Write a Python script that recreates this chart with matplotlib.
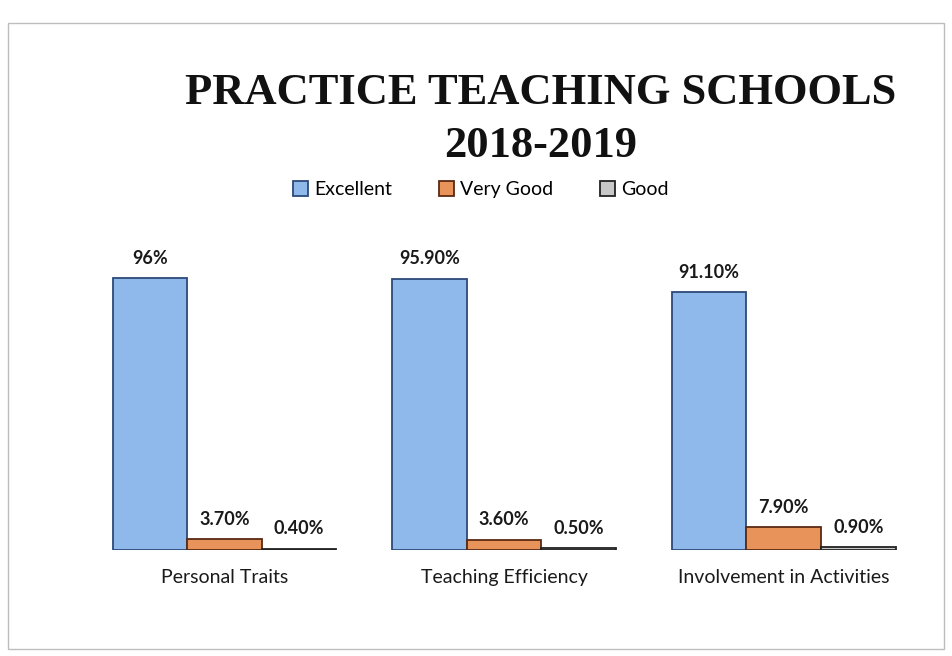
import numpy as np
import matplotlib
import matplotlib.pyplot as plt
from matplotlib.patches import Rectangle

matplotlib.use("Agg")

categories = ['Personal Traits', 'Teaching Efficiency', 'Involvement in Activities']
excellent = [96.0, 95.9, 91.1]
very_good = [3.7, 3.6, 7.9]
good = [0.4, 0.5, 0.9]
excellent_labels = ['96%', '95.90%', '91.10%']
very_good_labels = ['3.70%', '3.60%', '7.90%']
good_labels = ['0.40%', '0.50%', '0.90%']

series = [
    ('Excellent', excellent, excellent_labels, '#8fb9ea', '#2c4a78'),
    ('Very Good', very_good, very_good_labels, '#e8935a', '#5a2a14'),
    ('Good', good, good_labels, '#c8c8c8', '#222222'),
]

plt.rcParams['font.family'] = ['Lato', 'DejaVu Sans']

fig = plt.figure(figsize=(9.52, 6.56), dpi=100)
fig.patch.set_facecolor('white')
fig.patches.append(Rectangle((0.008, 0.01), 0.984, 0.955, transform=fig.transFigure,
                             fill=False, edgecolor='#bdbdbd', linewidth=1.0))

ax = fig.add_axes([0.089, 0.162, 0.881, 0.431])

x = np.arange(len(categories))
w = 0.267
for i, (name, vals, labels, color, edge) in enumerate(series):
    pos = x + (i - 1) * w
    bars = ax.bar(pos, vals, w, color=color, edgecolor=edge, linewidth=1.3, label=name)
    for b, lab in zip(bars, labels):
        ax.annotate(lab, (b.get_x() + b.get_width() / 2, b.get_height()),
                    xytext=(0, 8), textcoords='offset points', ha='center', va='bottom',
                    fontsize=13, fontweight='bold', color='#1a1a1a')

ax.set_xlim(-0.5, 2.5)
ax.set_ylim(0, 100)
ax.set_xticks(x)
ax.set_xticklabels(categories, fontsize=14, color='#1a1a1a')
ax.tick_params(axis='x', length=0, pad=14)
ax.set_yticks([])
for s in ax.spines.values():
    s.set_visible(False)

fig.text(0.568, 0.858, 'PRACTICE TEACHING SCHOOLS', ha='center', va='center',
         fontsize=32, fontweight='bold', family='Liberation Serif', color='#111111')
fig.text(0.568, 0.778, '2018-2019', ha='center', va='center',
         fontsize=32, fontweight='bold', family='Liberation Serif', color='#111111')

fig.legend(loc='center', bbox_to_anchor=(0.505, 0.711), ncol=3, frameon=False,
           fontsize=14, handlelength=0.8, handleheight=0.8, handletextpad=0.3,
           columnspacing=2.4)

fig.savefig('out.png', dpi=100)
